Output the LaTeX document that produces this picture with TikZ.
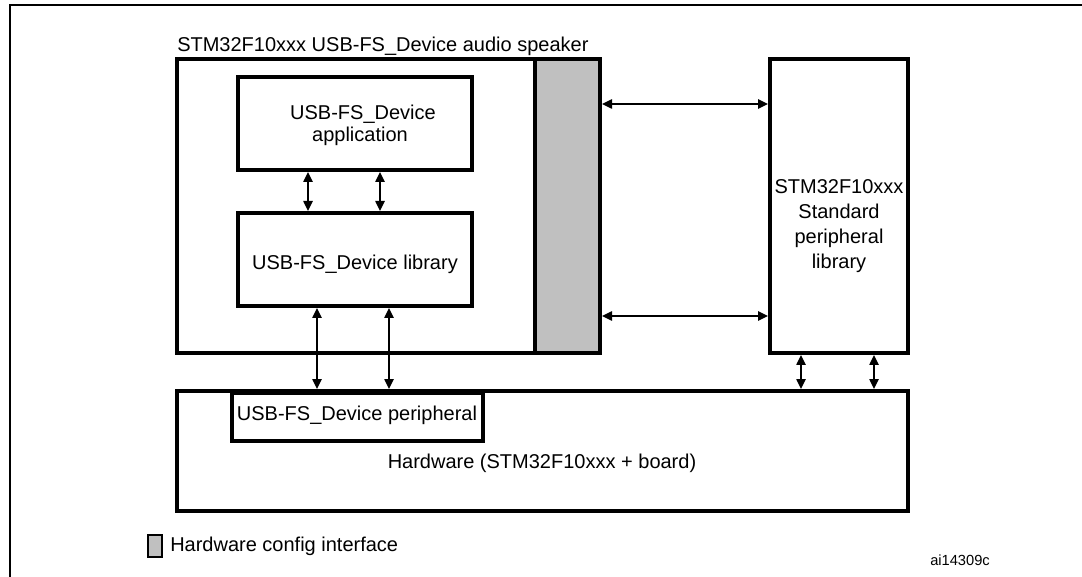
\documentclass[tikz,border=0pt]{standalone}
\usepackage{fontspec}
\setmainfont{Liberation Sans}
\usetikzlibrary{arrows.meta,fit}
\definecolor{cfggray}{HTML}{C0C0C0}
\begin{document}
\begin{tikzpicture}[x=0.75pt,y=-0.75pt,
  box/.style={draw,line width=3pt,inner sep=0pt},
  arr/.style={{Triangle[length=7.5pt,width=7pt]}-{Triangle[length=7.5pt,width=7pt]},line width=1.1pt},
  lbl/.style={inner sep=0pt,align=center,font=\fontsize{15}{18}\selectfont}]
\useasboundingbox (0,0) rectangle (1082,577);
\fill[white] (0,0) rectangle (1082,577);
\draw[line width=1.5pt] (10,577) -- (10,5) -- (1082,5);

\node[lbl,anchor=base west] (title) at (177,52) {STM32F10xxx USB-FS\_Device audio speaker};
\node[box,fit={(177,59) (600,353)}] (spk) {};
\node[box,fill=cfggray,fit={(535,59) (600,353)}] (cfg) {};
\node[box,fit={(238,77) (472,170)}] (app) {};
\node[lbl,anchor=base] (appA) at (363,120) {USB-FS\_Device};
\node[lbl,anchor=base] (appB) at (360,142) {application};
\node[box,fit={(238,213) (472,306)}] (lib) {};
\node[lbl,anchor=base] (libtxt) at (355,270) {USB-FS\_Device library};
\node[box,fit={(770,59) (908,353)}] (std) {};
\node[lbl,font=\fontsize{15}{18.75}\selectfont] (stdtxt) at (839,226) {STM32F10xxx\\Standard\\peripheral\\library};
\node[box,fit={(177,391) (908,511)}] (hw) {};
\node[box,fit={(232,393) (483,441)}] (per) {};
\node[lbl,anchor=base] (pertxt) at (357,421) {USB-FS\_Device peripheral};
\node[lbl] (hwtxt) at (542,463) {Hardware (STM32F10xxx + board)};

\coordinate (a1) at (308,0);
\coordinate (a2) at (380,0);
\coordinate (b1) at (317,0);
\coordinate (b2) at (389,0);
\coordinate (c1) at (0,104);
\coordinate (c2) at (0,316);
\coordinate (d1) at (801,0);
\coordinate (d2) at (874,0);
\draw[arr] (app.south -| a1) -- (lib.north -| a1);
\draw[arr] (app.south -| a2) -- (lib.north -| a2);
\draw[arr] (lib.south -| b1) -- (hw.north -| b1);
\draw[arr] (lib.south -| b2) -- (hw.north -| b2);
\draw[arr] (cfg.east |- c1) -- (std.west |- c1);
\draw[arr] (cfg.east |- c2) -- (std.west |- c2);
\draw[arr] (std.south -| d1) -- (hw.north -| d1);
\draw[arr] (std.south -| d2) -- (hw.north -| d2);

\node[draw,fill=cfggray,line width=1.2pt,inner sep=0pt,fit={(148,535) (162,557)}] (leg) {};
\node[lbl,anchor=west] (legtxt) at (170,546) {Hardware config interface};
\node[inner sep=0pt,anchor=base west,font=\fontsize{11}{13}\selectfont] (fig) at (930,565) {ai14309c};
\end{tikzpicture}
\end{document}
